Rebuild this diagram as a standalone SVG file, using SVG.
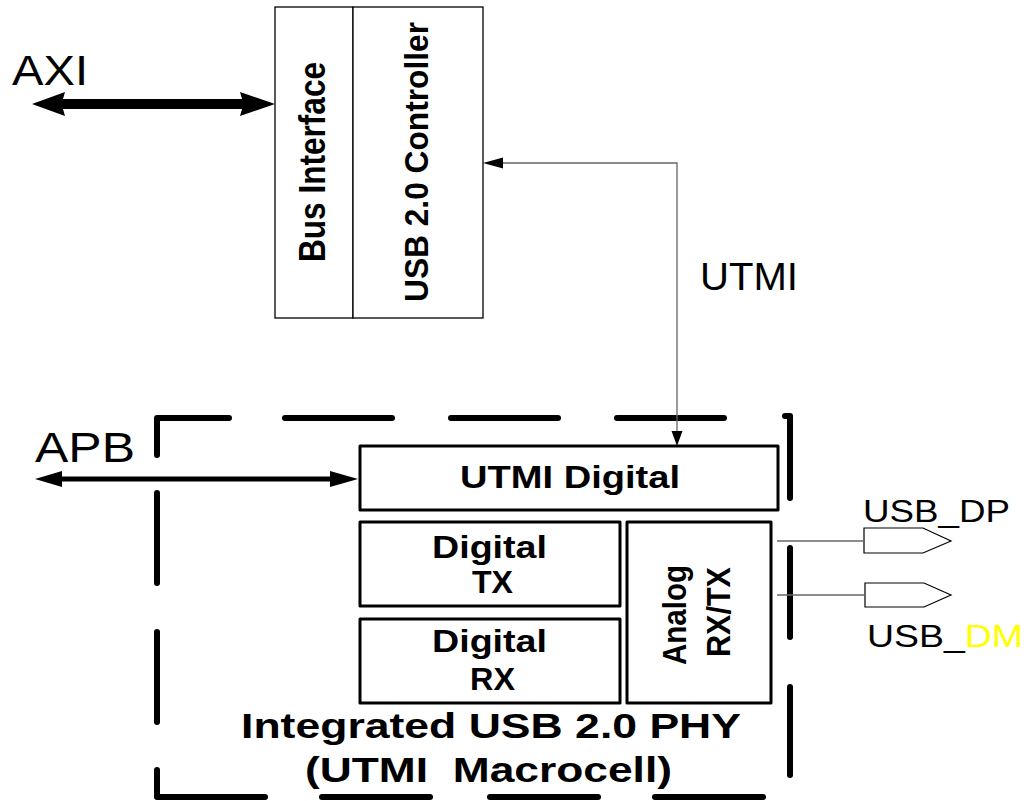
<svg xmlns="http://www.w3.org/2000/svg" width="1026" height="801" viewBox="0 0 1026 801">
<style>
text{font-family:"Liberation Sans",Arial,sans-serif;fill:#000}
.b{font-weight:bold}
.thin{fill:#fff;stroke:#000;stroke-width:1.3}
.blk{fill:#fff;stroke:#000;stroke-width:3;stroke-linejoin:round}
.dash{fill:none;stroke:#000;stroke-width:6;stroke-linecap:round;stroke-linejoin:round}
.wire{fill:none;stroke:#666;stroke-width:1.3}
.pin{fill:#fff;stroke:#000;stroke-width:1.2}
</style>
<rect width="1026" height="801" fill="#fff"/>

<g id="phy-boundary">
<path class="dash" d="M157,455 V418 H229"/>
<path class="dash" d="M285,418 H392"/>
<path class="dash" d="M451,418 H558"/>
<path class="dash" d="M617,418 H724"/>
<path class="dash" d="M785,416 H790 V498"/>
<path class="dash" d="M790,548 V637"/>
<path class="dash" d="M790,687 V775"/>
<path class="dash" d="M157,493 V583"/>
<path class="dash" d="M157,632 V722"/>
<path class="dash" d="M157,770 V797 H265"/>
<path class="dash" d="M322,797 H430"/>
<path class="dash" d="M490,797 H598"/>
<path class="dash" d="M655,797 H763"/>
<text class="b" x="241" y="738" font-size="35" textLength="500" lengthAdjust="spacingAndGlyphs">Integrated USB 2.0 PHY</text>
<text class="b" x="305" y="782" font-size="35" textLength="367" lengthAdjust="spacingAndGlyphs" style="white-space:pre">(UTMI  Macrocell)</text>
</g>

<g id="bus-interface">
<rect class="thin" x="275" y="7" width="78" height="311"/>
<text class="b" font-size="37" textLength="200" lengthAdjust="spacingAndGlyphs" transform="translate(325,262) rotate(-90)">Bus Interface</text>
</g>

<g id="usb-controller">
<rect class="thin" x="353" y="7" width="130" height="311"/>
<text class="b" font-size="34" textLength="280" lengthAdjust="spacingAndGlyphs" transform="translate(428,302) rotate(-90)">USB 2.0 Controller</text>
</g>

<g id="utmi-digital">
<rect class="blk" x="360" y="446" width="418" height="64"/>
<text class="b" x="460" y="488" font-size="32" textLength="220" lengthAdjust="spacingAndGlyphs">UTMI Digital</text>
</g>

<g id="digital-tx">
<rect class="blk" x="360" y="522" width="260" height="84"/>
<text class="b" x="432" y="558" font-size="31" textLength="115" lengthAdjust="spacingAndGlyphs">Digital</text>
<text class="b" x="472" y="593" font-size="31" textLength="41" lengthAdjust="spacingAndGlyphs">TX</text>
</g>

<g id="digital-rx">
<rect class="blk" x="360" y="619" width="260" height="84"/>
<text class="b" x="432" y="652" font-size="31" textLength="115" lengthAdjust="spacingAndGlyphs">Digital</text>
<text class="b" x="470" y="690" font-size="31" textLength="45" lengthAdjust="spacingAndGlyphs">RX</text>
</g>

<g id="analog-rxtx">
<rect class="blk" x="627" y="522" width="144" height="181"/>
<text class="b" font-size="34" textLength="100" lengthAdjust="spacingAndGlyphs" transform="translate(686,665) rotate(-90)">Analog</text>
<text class="b" font-size="34" textLength="90" lengthAdjust="spacingAndGlyphs" transform="translate(730,657) rotate(-90)">RX/TX</text>
</g>

<g id="usb-dp">
<polygon class="pin" points="864,528 923,528 951,541 923,553 864,553"/>
<text x="863" y="522" font-size="32" textLength="147" lengthAdjust="spacingAndGlyphs">USB_DP</text>
</g>

<g id="usb-dm">
<polygon class="pin" points="865,583 924,583 951,595 924,607 865,607"/>
<text x="867" y="647" font-size="31" textLength="156" lengthAdjust="spacingAndGlyphs">USB_<tspan fill="#ffff00">DM</tspan></text>
</g>

<g id="connectors">
<path fill="#000" d="M32,104 L65,92 L63,99 L242,99 L240,92 L275,104 L240,116 L242,109 L63,109 L65,116 Z"/>
<text x="12" y="85" font-size="42" textLength="76" lengthAdjust="spacingAndGlyphs">AXI</text>
<path fill="#000" d="M35,479 L62,471 L62,476.5 L330,476.5 L330,471 L358,479 L330,487 L330,481.5 L62,481.5 L62,487 Z"/>
<text x="35" y="462" font-size="42" textLength="100" lengthAdjust="spacingAndGlyphs">APB</text>
<path class="wire" d="M500,163 H677 V432"/>
<path fill="#000" d="M483,163 L503,157.5 L503,168.5 Z"/>
<path fill="#000" d="M677,446 L671.5,431 L682.5,431 Z"/>
<text x="700" y="290" font-size="39" textLength="98" lengthAdjust="spacingAndGlyphs">UTMI</text>
<path class="wire" d="M777,541 H864"/>
<path class="wire" d="M777,595 H865"/>
</g>
</svg>
